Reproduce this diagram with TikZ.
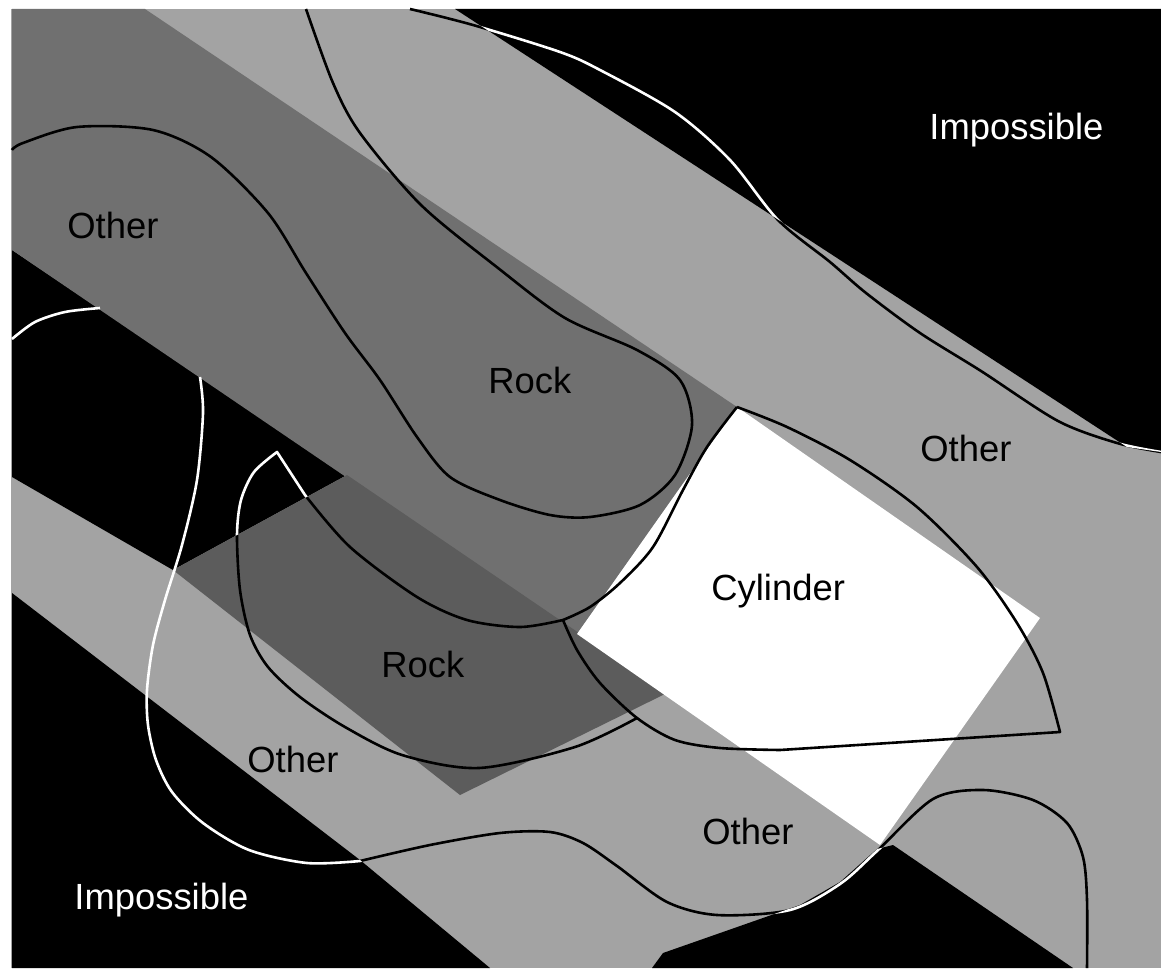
\documentclass[tikz,border=0pt]{standalone}
\usepackage{fontspec}
\setmainfont{Liberation Sans}
\usepackage{xcolor}
\usetikzlibrary{calc}

\definecolor{otherfill}{gray}{0.64}
\definecolor{bandfill}{gray}{0.44}
\definecolor{rockfill}{gray}{0.36}

\newcommand{\labelfont}{\fontsize{18.2}{22}\selectfont}

% black (impossible) zones, pixel units
\newcommand{\blackzone}{(455,9) -- (1161,9) -- (1161,452) -- (1127,447) -- cycle
  (12,250) -- (347,475) -- (173,570) -- (12,477) -- cycle
  (12,593) -- (360,860) -- (490,968) -- (12,968) -- cycle
  (652,968) -- (663,953) -- (800,905) -- (840,882) -- (877,849) -- (893,845) -- (1073,968) -- cycle}

% region boundaries
\newcommand{\topline}{plot[smooth] coordinates {(410,9) (473,25) (560,52) (600,70) (675,112) (730,160) (778,220) (830,262) (866,293) (920,333) (981,371) (1058,421) (1117,443) (1161,452)}}
\newcommand{\rockline}{plot[smooth] coordinates {(306,9) (333,83) (360,133) (421,205) (498,268) (565,318) (637,350) (680,380) (692,425) (675,475) (640,505) (590,517) (550,515) (500,500) (450,477) (417,437) (380,380) (345,333) (306,273) (268,213) (211,157) (153,130) (77,127) (23,143) (12,150)}}
\newcommand{\archline}{plot[smooth] coordinates {(637,718) (575,747) (479,768) (402,755) (345,727) (300,697) (268,667) (250,635) (240,590) (237,535) (241,500) (254,472) (277,452)} -- (305,495)
  plot[smooth] coordinates {(305,495) (350,547) (417,597) (467,620) (520,627) (563,620)}}
\newcommand{\lowline}{plot[smooth] coordinates {(360,861) (430,845) (500,833) (550,832) (583,843) (617,866) (667,902) (717,915) (790,910) (840,884) (877,851) (933,799) (983,790) (1033,800) (1067,823) (1083,857) (1087,900) (1087,968)}}

\begin{document}
\begin{tikzpicture}[
    x=0.5pt, y=-0.5pt,
    rim/.style={line width=1.3pt, line join=round},
    lbl/.style={anchor=base west, inner sep=0pt, font=\labelfont},
]
    \useasboundingbox (0,0) rectangle (1161,974);
    \fill[white] (0,0) rectangle (1161,974);
    \fill[otherfill] (11,9) rectangle (1161,968);
    \fill[black] \blackzone;

    % dark band and the lower rock block
    \fill[bandfill] (12,9) -- (145,9) -- (737,407) -- (577,634) -- (12,250) -- cycle;
    \fill[rockfill] (347,475) -- (667,693) -- (460,795) -- (173,570) -- cycle;

    % cylinder block
    \coordinate (cyl-n) at (737,407);
    \coordinate (cyl-e) at (1040,618);
    \coordinate (cyl-s) at (880,845);
    \coordinate (cyl-w) at (577,634);
    \fill[white] (cyl-n) -- (cyl-e) -- (cyl-s) -- (cyl-w) -- cycle;

    % boundaries: black on grey, white on black
    \draw[rim] \topline;
    \draw[rim] \rockline;
    \draw[rim] \archline;
    \draw[rim] \lowline;
    \begin{scope}
        \clip \blackzone;
        \draw[rim, white] \topline;
        \draw[rim, white] \archline;
        \draw[rim, white] \lowline;
    \end{scope}
    \draw[rim, white] plot[smooth] coordinates {(12,339) (35,322) (65,312) (100,308)};
    \draw[rim, white] plot[smooth] coordinates {(200,377) (203,413) (197,480) (182,545) (165,600) (153,645) (147,690) (148,725) (156,760) (172,792) (203,823) (249,850) (307,863) (360,861)};

    % cylinder boundary
    \draw[rim] plot[smooth] coordinates {(563,620) (590,607) (620,583) (653,547) (683,490) (707,447) (737,407)};
    \draw[rim] plot[smooth] coordinates {(737,407) (787,427) (850,460) (917,507) (977,567) (1017,623) (1043,673) (1060,732)} -- (780,750);
    \draw[rim] plot[smooth] coordinates {(780,750) (720,748) (675,740) (637,718) (600,683) (577,650) (563,620)};

    % labels
    \node[lbl, text=white] (imp-top) at (929,140) {Impossible};
    \node[lbl, text=white] (imp-low) at (74,909) {Impossible};
    \node[lbl] (oth-ul) at (67,238) {Other};
    \node[lbl] (rock-up) at (488,393) {Rock};
    \node[lbl] (rock-low) at (381,677) {Rock};
    \node[lbl] (oth-ll) at (247,772) {Other};
    \node[lbl] (oth-r) at (920,461) {Other};
    \node[lbl] (oth-low) at (702,844) {Other};
    \node[lbl] (cyl) at (711,600) {Cylinder};
\end{tikzpicture}
\end{document}
